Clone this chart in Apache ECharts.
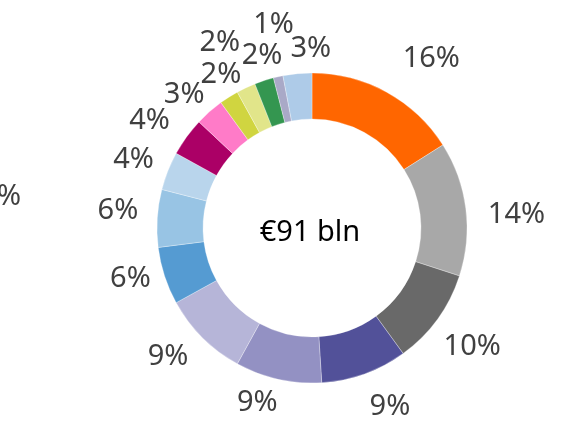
<!DOCTYPE html>
<html>
<head>
<meta charset="utf-8">
<script src="https://cdn.jsdelivr.net/npm/echarts@6/dist/echarts.min.js"></script>
<style>
  html, body { margin: 0; padding: 0; background: #fff; }
  #chart { width: 577px; height: 421px; }
</style>
</head>
<body>
<div id="chart"></div>
<script>
// Slice shares (percent), clockwise from 12 o'clock
const shares = [16, 14, 10, 9, 9, 9, 6, 6, 4, 4, 3, 2, 2, 2, 1, 3];
const sliceColors = [
  '#FF6600', '#A8A8A8', '#696969', '#525199', '#9391C3', '#B6B5D8',
  '#559BD2', '#98C4E4', '#B9D5EC', '#AB0066', '#FF7BC8', '#D0D540',
  '#E1E58A', '#349650', '#A9A9C7', '#AECBE8'
];
const totalLabel = '€91 bln';

// Label placement around the ring: distance from centre and small angular turn (degrees)
const labelRadius = [209, 205, 198, 193, 181, 192, 188, 195, 192, 196, 186, 180, 209, 181, 209, 181];
const labelTurn   = [6, 3, 0, -4, 5, 3.6, 3, 2, 0, -2, -2, 2, -1, 2, 2, 5];

const CX = 312, CY = 228, R_IN = 109, R_OUT = 155;
const FONT = '"Noto Sans", "Open Sans", sans-serif';

const total = shares.reduce((a, b) => a + b, 0);
const midAngles = [];
let acc = 0;
shares.forEach(v => { midAngles.push((acc + v / 2) / total * 360); acc += v; });

const chart = echarts.init(document.getElementById('chart'), null, { renderer: 'canvas' });
chart.setOption({
  animation: false,
  graphic: [
    {
      type: 'text', x: CX - 2, y: CY + 5,
      style: { text: totalLabel, font: '29px ' + FONT, fill: '#000', align: 'center', verticalAlign: 'middle' }
    },
    {
      type: 'text', left: -3, top: 182,
      style: { text: '%', font: '29px ' + FONT, fill: '#404040' }
    }
  ],
  series: [{
    type: 'pie',
    center: [CX, CY],
    radius: [R_IN, R_OUT],
    startAngle: 90,
    clockwise: true,
    avoidLabelOverlap: false,
    itemStyle: { borderColor: '#fff', borderWidth: 0.3 },
    label: {
      show: true,
      position: 'outside',
      formatter: p => p.value + '%',
      fontFamily: FONT,
      fontSize: 29,
      color: '#404040'
    },
    labelLine: { show: false },
    emphasis: { disabled: true },
    labelLayout: params => {
      const i = params.dataIndex;
      const a = (midAngles[i] + labelTurn[i]) * Math.PI / 180;
      const r = labelRadius[i];
      return {
        x: CX + r * Math.sin(a),
        y: CY + 2 - r * Math.cos(a),
        align: 'center',
        verticalAlign: 'middle'
      };
    },
    data: shares.map((v, i) => ({ value: v, itemStyle: { color: sliceColors[i] } }))
  }]
});
</script>
</body>
</html>
